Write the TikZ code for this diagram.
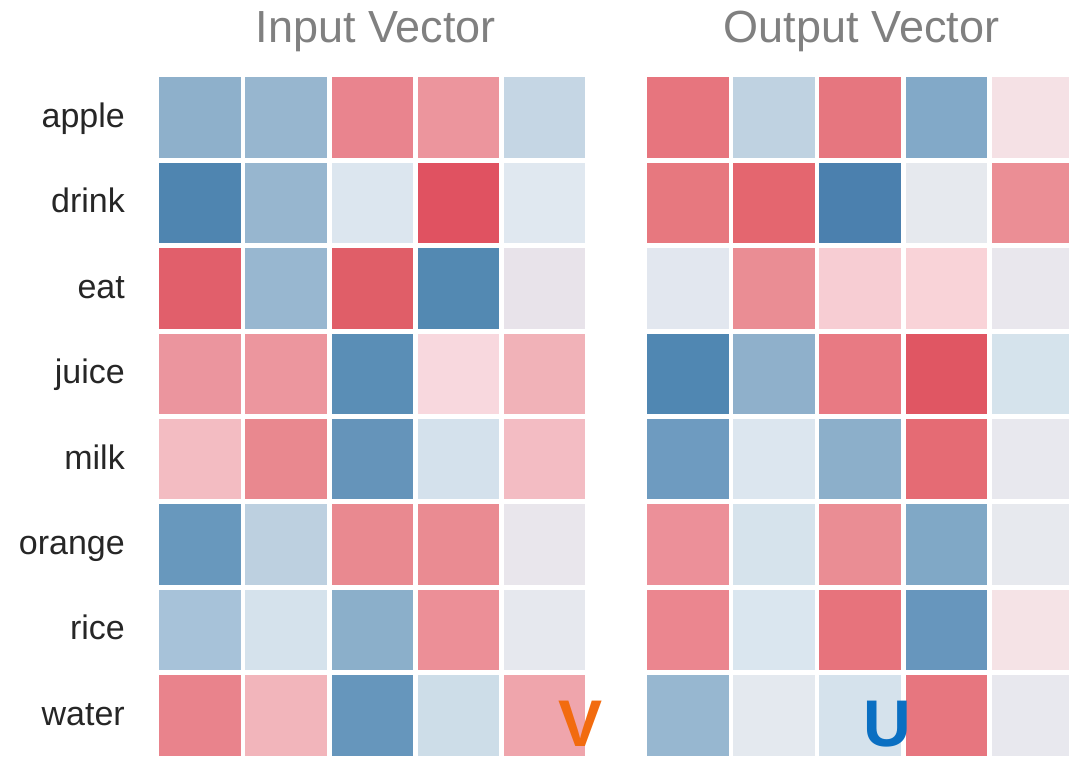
\documentclass[tikz,border=0pt]{standalone}
\usepackage{fontspec}
\setmainfont{Liberation Sans}
\begin{document}
\begin{tikzpicture}[x=1pt,y=-1pt,
  cell/.style={rectangle,inner sep=0pt,minimum width=81.3pt,minimum height=80.5pt,draw=none},
  rowlabel/.style={anchor=base east,inner sep=0pt,text=labelgray,
    font=\fontsize{34}{40}\selectfont},
  heading/.style={anchor=base,inner sep=0pt,text=titlegray,
    font=\fontsize{45}{50}\selectfont},
  mark letter/.style={anchor=base,inner sep=0pt,
    font=\fontsize{66}{70}\selectfont\bfseries}]
\definecolor{labelgray}{RGB}{38,38,38}
\definecolor{titlegray}{RGB}{128,128,128}
\definecolor{vorange}{HTML}{F26B0F}
\definecolor{ublue}{HTML}{0A6FC2}
\useasboundingbox (0,0) rectangle (1069,757);
\clip (0,0) rectangle (1069,757);

% headings
\node[heading] (tin) at (375.8,43) {Input Vector};
\node[heading] (tout) at (861.5,43) {Output Vector};

% row labels
\foreach \w [count=\r] in {apple,drink,eat,juice,milk,orange,rice,water}{
  \node[rowlabel] (lab-\r) at (125,{127.5+85.4*(\r-1)}) {\w};
}

% input vector heatmap
\foreach \r/\cols in {
  1/{8EB0CB,97B6CF,E9848E,EC959D,C5D6E4},
  2/{4F85B0,97B6CF,DCE6EF,E05261,E0E8F0},
  3/{E15F6B,98B7D0,E05E68,5389B2,E8E3EA},
  4/{EB959E,EC969E,5A8EB6,F8D8DE,F1B2B8},
  5/{F3BCC2,E9888F,6594BA,D4E1EC,F3BCC3},
  6/{6898BD,BDD0E0,E98990,EA8B92,E9E6EC},
  7/{A7C2D9,D5E2EC,8BAFCA,EC8F97,E6E8EE},
  8/{E9838C,F2B5BB,6696BC,CDDDE8,EFA5AC}}{
  \foreach \c [count=\j] in \cols {
    \definecolor{cellfill}{HTML}{\c}
    \node[cell,fill=cellfill] (in-\r-\j) at ({199.95+86.15*(\j-1)},{117.55+85.4*(\r-1)}) {};
  }
}

% output vector heatmap
\foreach \r/\cols in {
  1/{E7757E,BFD2E1,E6767F,82A9C8,F5E1E5},
  2/{E7787F,E4666F,4B80AE,E6E9EE,EB8E95},
  3/{E2E7EF,EA8D94,F7CDD3,F9D3D8,E9E7ED},
  4/{5087B2,8FB0CB,E87A83,E05663,D5E3EC},
  5/{6E9BC0,DCE6EF,8CAFCA,E56B74,E8E8EE},
  6/{EC9099,D6E3EC,EA8D94,80A8C6,E7E9EE},
  7/{EB868F,DAE6EF,E7737C,6796BD,F5E3E6},
  8/{97B7D0,E4E9EF,D5E2EC,E7767F,E8E8EE}}{
  \foreach \c [count=\j] in \cols {
    \definecolor{cellfill}{HTML}{\c}
    \node[cell,fill=cellfill] (out-\r-\j) at ({687.9+86.1*(\j-1)},{117.55+85.4*(\r-1)}) {};
  }
}

% matrix names
\node[mark letter,text=vorange] (vname) at (580.8,746.7) {V};
\node[mark letter,text=ublue] (uname) at (887.5,746.7) {U};
\end{tikzpicture}
\end{document}
